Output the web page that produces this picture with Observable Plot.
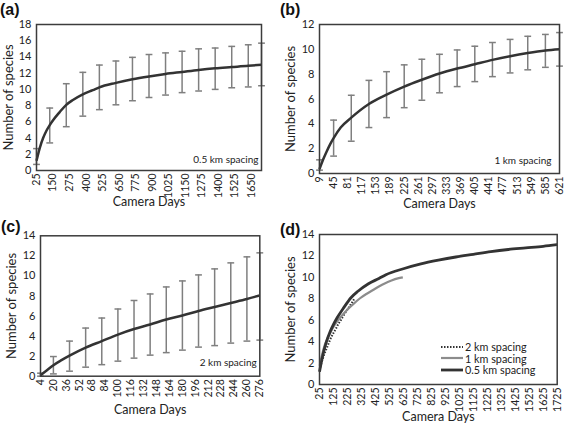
<!DOCTYPE html>
<html>
<head>
<meta charset="utf-8">
<script src="https://cdn.jsdelivr.net/npm/d3@7"></script>
<script src="https://cdn.jsdelivr.net/npm/@observablehq/plot@0.6"></script>
<style>
  body { margin: 0; background: #fff; }
  #wrap { position: relative; width: 568px; height: 430px; overflow: hidden; background: #fff; font-family: Lato, "Open Sans", sans-serif; color: #222; }
  .panel { position: absolute; }
  .tag { position: absolute; font: bold 16px "Liberation Sans", Arial, sans-serif; color: #111; line-height: 1; }
  .legend { position: absolute; font: 10.8px Lato, sans-serif; color: #222; }
  .legend div { height: 11.5px; line-height: 11.5px; display: flex; align-items: center; white-space: nowrap; }
  .legend svg { margin-right: 2px; }
</style>
</head>
<body>
<div id="wrap"></div>
<script>
// ---------- Data ----------
// (a) 0.5 km spacing
const daysA = [25, 50, 75, 100, 125, 150, 200, 250, 300, 375, 450, 500, 625, 750, 875, 1000, 1125, 1250, 1375, 1500, 1625, 1725];
const meanA = [1.2, 2.8, 4.0, 4.9, 5.6, 6.2, 7.2, 8.1, 8.7, 9.4, 9.9, 10.25, 10.8, 11.25, 11.6, 11.9, 12.15, 12.4, 12.6, 12.75, 12.9, 13.05];
const barDaysA = [25, 125, 250, 375, 500, 625, 750, 875, 1000, 1125, 1250, 1375, 1500, 1625, 1725];
const barLoA = [0.75, 3.4, 5.4, 6.7, 7.5, 8.1, 8.6, 9.0, 9.3, 9.6, 9.8, 10.0, 10.2, 10.3, 10.45];
const barHiA = [2.7, 7.7, 10.7, 12.1, 13.0, 13.5, 13.95, 14.3, 14.5, 14.7, 15.0, 15.1, 15.3, 15.5, 15.7];
const ticksA = [25, 150, 275, 400, 525, 650, 775, 900, 1025, 1150, 1275, 1400, 1525, 1650];

// (b) 1 km spacing
const daysB = [9, 18, 27, 36, 45, 63, 90, 135, 180, 225, 270, 315, 360, 405, 450, 495, 540, 585, 621];
const meanB = [0.35, 1.1, 1.75, 2.35, 2.85, 3.7, 4.5, 5.6, 6.35, 7.0, 7.55, 8.05, 8.45, 8.8, 9.15, 9.45, 9.7, 9.9, 10.0];
const barDaysB = [9, 45, 90, 135, 180, 225, 270, 315, 360, 405, 450, 495, 540, 585, 621];
const barLoB = [0.27, 1.4, 2.6, 3.7, 4.5, 5.3, 5.9, 6.5, 7.0, 7.4, 7.8, 8.1, 8.35, 8.55, 8.65];
const barHiB = [1.1, 4.3, 6.3, 7.5, 8.2, 8.75, 9.2, 9.6, 9.95, 10.25, 10.55, 10.8, 11.05, 11.2, 11.35];
const ticksB = [9, 45, 81, 117, 153, 189, 225, 261, 297, 333, 369, 405, 441, 477, 513, 549, 585, 621];

// (c) 2 km spacing
const daysC = [4, 12, 20, 30, 40, 60, 80, 100, 120, 140, 160, 180, 200, 220, 240, 260, 276];
const meanC = [0.1, 0.6, 1.1, 1.6, 2.05, 2.85, 3.5, 4.15, 4.7, 5.15, 5.65, 6.05, 6.5, 6.9, 7.3, 7.7, 8.05];
const barDaysC = [4, 20, 40, 60, 80, 100, 120, 140, 160, 180, 200, 220, 240, 260, 276];
const barLoC = [0.0, 0.23, 0.5, 0.9, 1.15, 1.5, 1.8, 2.1, 2.35, 2.6, 2.9, 3.05, 3.3, 3.5, 3.6];
const barHiC = [0.3, 1.96, 3.5, 4.8, 5.8, 6.7, 7.55, 8.2, 8.9, 9.5, 10.1, 10.7, 11.3, 11.9, 12.3];
const ticksC = [4, 20, 36, 52, 68, 84, 100, 116, 132, 148, 164, 180, 196, 212, 228, 244, 260, 276];

// (d) comparison
const ticksD = [25, 125, 225, 325, 425, 525, 625, 725, 825, 925, 1025, 1125, 1225, 1325, 1425, 1525, 1625, 1725];
const seriesNames = ["2 km spacing", "1 km spacing", "0.5 km spacing"];

// ---------- Helpers ----------
const INK = "#333333";
const BAR = "#7f7f7f";
const FRAME = "#3c3c3c";
const toPts = (days, vals) => days.map((d, i) => ({day: d, v: vals[i]}));
const toBars = (days, lo, hi) => days.map((d, i) => ({day: d, lo: lo[i], hi: hi[i]}));
const cap = {draw(ctx, size) { const w = Math.sqrt(size / Math.PI); ctx.moveTo(-w, 0); ctx.lineTo(w, 0); }};

function axes(xTicks, yMax, xTitleDy, yTitleDx) {
  return [
    Plot.axisX(xTicks, {tickRotate: -90, tickSize: 0, tickPadding: 3, label: null, tickFormat: d => String(d), fontSize: 10.5, fill: "#222"}),
    Plot.axisY(d3.range(0, yMax + 1, 2), {tickSize: 0, tickPadding: 5, label: null, tickFormat: d => String(d), fontSize: 11, fill: "#222"}),
    Plot.text(["Camera Days"], {frameAnchor: "bottom", dy: xTitleDy, fontSize: 12.5, fill: "#222"}),
    Plot.text(["Number of species"], {frameAnchor: "left", textAnchor: "middle", dx: yTitleDx, rotate: -90, fontSize: 13, fill: "#222"})
  ];
}

function panelPlot(cfg) {
  const marks = [
    ...axes(cfg.xTicks, cfg.yMax, cfg.xTitleDy, cfg.yTitleDx)
  ];
  if (cfg.bars) {
    marks.push(Plot.ruleX(cfg.bars, {x: "day", y1: "lo", y2: "hi", stroke: BAR, strokeWidth: 1.5}));
    marks.push(Plot.dot(cfg.bars, {x: "day", y: "hi", symbol: cap, r: 3.4, stroke: BAR, strokeWidth: 1.5, fill: "none"}));
    marks.push(Plot.dot(cfg.bars, {x: "day", y: "lo", symbol: cap, r: 3.4, stroke: BAR, strokeWidth: 1.5, fill: "none"}));
  }
  for (const ln of cfg.lines) {
    marks.push(Plot.line(ln.data, {x: "day", y: "v", curve: "monotone-x", stroke: ln.stroke, strokeWidth: ln.width, strokeDasharray: ln.dash, strokeLinecap: "butt"}));
  }
  if (cfg.note) {
    marks.push(Plot.text([cfg.note], {frameAnchor: "bottom-right", dx: cfg.noteDx, dy: cfg.noteDy, textAnchor: "end", fontSize: 10, fill: "#222"}));
  }
  marks.push(Plot.frame({stroke: FRAME, strokeWidth: 1.5}));
  return Plot.plot({
    width: cfg.w, height: cfg.h,
    marginLeft: cfg.ml, marginRight: cfg.mr, marginTop: cfg.mt, marginBottom: cfg.mb,
    style: {fontFamily: "Lato, 'Open Sans', sans-serif", background: "transparent", overflow: "visible"},
    x: {domain: cfg.xDomain},
    y: {domain: [0, cfg.yMax]},
    marks
  });
}

const wrap = document.getElementById("wrap");
function place(node, left, top) {
  const d = document.createElement("div");
  d.className = "panel"; d.style.left = left + "px"; d.style.top = top + "px";
  d.appendChild(node); wrap.appendChild(d);
}
function tag(txt, left, top) {
  const t = document.createElement("div");
  t.className = "tag"; t.textContent = txt; t.style.left = left + "px"; t.style.top = top + "px";
  wrap.appendChild(t);
}

const ptsA = toPts(daysA, meanA), ptsB = toPts(daysB, meanB), ptsC = toPts(daysC, meanC);

place(panelPlot({w: 280, h: 212, ml: 36, mr: 19, mt: 24, mb: 42, xDomain: [25, 1725], xTicks: ticksA, yMax: 18,
  xTitleDy: 35, yTitleDx: -28, bars: toBars(barDaysA, barLoA, barHiA),
  lines: [{data: ptsA, stroke: INK, width: 2.5}], note: "0.5 km spacing", noteDx: -3, noteDy: -8}), 0, 0);

place(panelPlot({w: 288, h: 212, ml: 39, mr: 9, mt: 24, mb: 39, xDomain: [9, 621], xTicks: ticksB, yMax: 12,
  xTitleDy: 34, yTitleDx: -29, bars: toBars(barDaysB, barLoB, barHiB),
  lines: [{data: ptsB, stroke: INK, width: 2.5}], note: "1 km spacing", noteDx: -8, noteDy: -10}), 280, 0);

place(panelPlot({w: 280, h: 220, ml: 40, mr: 20.7, mt: 25.3, mb: 54.3, xDomain: [4, 276], xTicks: ticksC, yMax: 14,
  xTitleDy: 37.6, yTitleDx: -28.3, bars: toBars(barDaysC, barLoC, barHiC),
  lines: [{data: ptsC, stroke: INK, width: 2.5}], note: "2 km spacing", noteDx: -3, noteDy: -10}), 0, 210);

place(panelPlot({w: 288, h: 220, ml: 39, mr: 11.3, mt: 24, mb: 46, xDomain: [25, 1725], xTicks: ticksD, yMax: 14,
  xTitleDy: 36, yTitleDx: -29,
  lines: [
    {data: ptsC.filter(p => p.day >= 25), stroke: INK, width: 2, dash: "1.5,1.5"},
    {data: ptsB.filter(p => p.day >= 25), stroke: "#8c8c8c", width: 2.2},
    {data: ptsA, stroke: INK, width: 2.8}
  ]}), 280, 210);

tag("(a)", 0, 2); tag("(b)", 280, 2); tag("(c)", 1, 219); tag("(d)", 280, 222);

// legend for (d)
const lg = document.createElement("div");
lg.className = "legend"; lg.style.left = "441px"; lg.style.top = "341px";
const styles = [
  {stroke: INK, w: 2, dash: "1.5,1.5"},
  {stroke: "#8c8c8c", w: 2.2, dash: null},
  {stroke: INK, w: 2.8, dash: null}
];
seriesNames.forEach((name, i) => {
  const row = document.createElement("div");
  const s = styles[i];
  row.innerHTML = `<svg width="22" height="6"><line x1="0" x2="22" y1="3" y2="3" stroke="${s.stroke}" stroke-width="${s.w}" ${s.dash ? `stroke-dasharray="${s.dash}"` : ""}/></svg><span>${name}</span>`;
  lg.appendChild(row);
});
wrap.appendChild(lg);
</script>
</body>
</html>
